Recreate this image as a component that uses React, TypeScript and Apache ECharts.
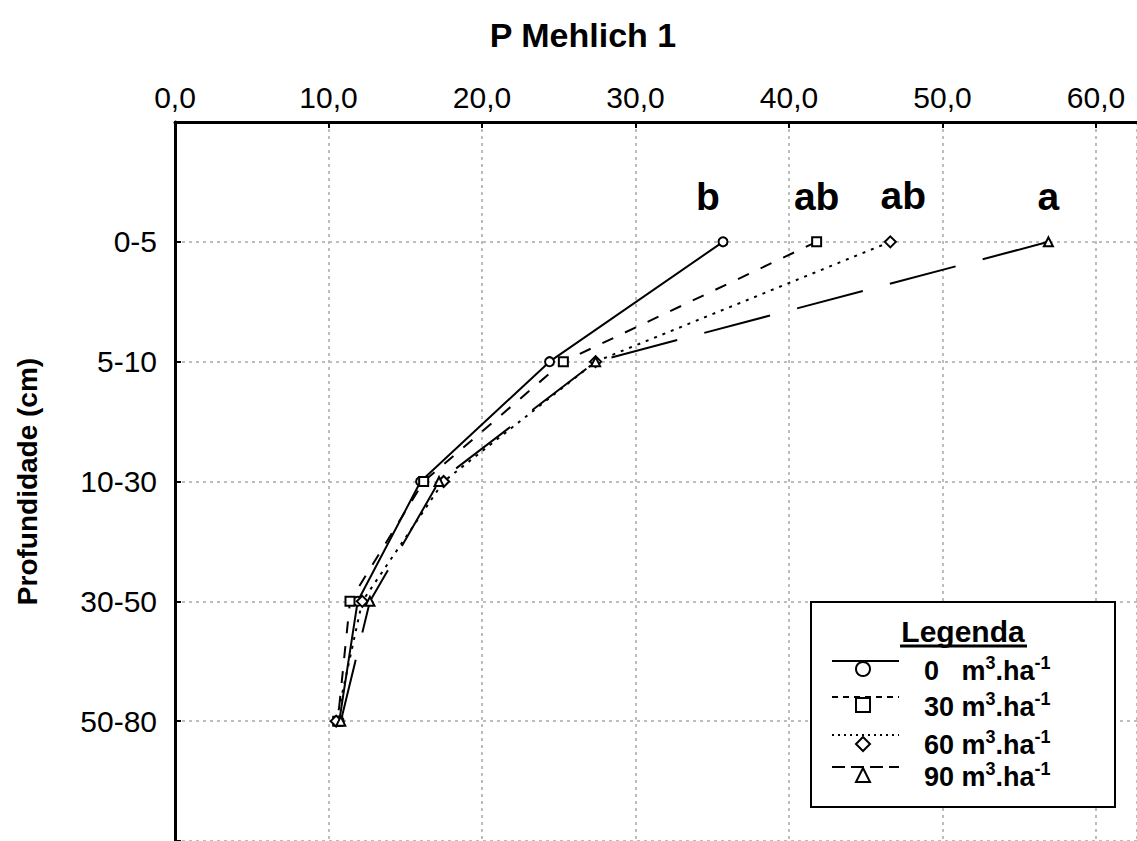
import React, { useEffect, useRef } from "react";
import * as echarts from "echarts";

// ---- data ----
const depthLabels = ["0-5", "5-10", "10-30", "30-50", "50-80"];
const dose0 = [35.7, 24.4, 16.0, 11.9, 10.7];
const dose30 = [41.8, 25.3, 16.2, 11.4, 10.6];
const dose60 = [46.6, 27.4, 17.5, 12.2, 10.5];
const dose90 = [56.9, 27.4, 17.2, 12.7, 10.8];
const letters = ["b", "ab", "ab", "a"];
const doseNames = ["0   ", "30 ", "60 ", "90 "];
const xTitle = "P Mehlich 1";
const yTitle = "Profundidade (cm)";
const legendTitle = "Legenda";

const FONT = '"Liberation Sans", Arial, Helvetica, sans-serif';

const seriesDefs = [
  { values: dose0, symbol: "circle", dash: "solid" as any, letterOffset: [-15, 0] },
  { values: dose30, symbol: "rect", dash: [12, 13], letterOffset: [0, 0] },
  { values: dose60, symbol: "diamond", dash: [3, 6], letterOffset: [13, 0] },
  { values: dose90, symbol: "triangle", dash: [68, 28], letterOffset: [0, 0] },
];
const legendDash: any[] = ["solid", [6, 5], [2, 4], [13, 6]];

export default function App() {
  const ref = useRef<HTMLDivElement>(null);
  useEffect(() => {
    document.body.style.margin = "0";
    const chart = echarts.init(ref.current!, null, { renderer: "svg" });

    const series = seriesDefs.map((d, si) => ({
      type: "line",
      name: doseNames[si],
      data: d.values.map((v, i) =>
        i === 0
          ? {
              value: [v, i],
              label: {
                show: true,
                formatter: letters[si],
                position: "top",
                distance: 20,
                offset: d.letterOffset,
                fontFamily: FONT,
                fontWeight: "bold",
                fontSize: 39,
                color: "#000",
              },
            }
          : { value: [v, i] }
      ),
      symbol: d.symbol,
      symbolSize: d.symbol === "diamond" ? 11 : 9,
      showSymbol: true,
      color: "#000",
      lineStyle: { color: "#000", width: 2, type: d.dash },
      itemStyle: { color: "#fff", borderColor: "#000", borderWidth: 2 },
      z: 3 + si,
    }));

    // legend graphic
    const lx = 811, ly = 602, lw = 304, lh = 205;
    const rowY = [661, 697, 735, 767];
    const legendEls: any[] = [
      { type: "rect", shape: { x: lx, y: ly, width: lw, height: lh }, style: { fill: "#fff", stroke: "#000", lineWidth: 2 }, z: 100 },
      { type: "text", x: 963, y: 616, style: { text: legendTitle, font: `bold 30px ${FONT}`, fill: "#000", textAlign: "center", textVerticalAlign: "top" }, z: 101 },
      { type: "line", shape: { x1: 900, y1: 646, x2: 1027, y2: 646 }, style: { stroke: "#000", lineWidth: 3 }, z: 101 },
    ];
    seriesDefs.forEach((d, i) => {
      const y = rowY[i];
      legendEls.push({ type: "line", shape: { x1: 832, y1: y, x2: 899, y2: y }, style: { stroke: "#000", lineWidth: 2, lineDash: legendDash[i] === "solid" ? null : legendDash[i] }, z: 101 });
      const cx = 863, cy = y + 8;
      const st = { fill: "#fff", stroke: "#000", lineWidth: 2 };
      if (d.symbol === "circle") legendEls.push({ type: "circle", shape: { cx, cy, r: 7 }, style: st, z: 102 });
      else if (d.symbol === "rect") legendEls.push({ type: "rect", shape: { x: cx - 7, y: cy - 7, width: 14, height: 14 }, style: st, z: 102 });
      else if (d.symbol === "diamond") legendEls.push({ type: "polygon", shape: { points: [[cx, cy - 6], [cx + 7, cy + 1], [cx, cy + 8], [cx - 7, cy + 1]] }, style: st, z: 102 });
      else legendEls.push({ type: "polygon", shape: { points: [[cx, cy - 7], [cx + 7, cy + 7], [cx - 7, cy + 7]] }, style: st, z: 102 });
      legendEls.push({
        type: "text",
        x: 924,
        y: y + 8,
        style: {
          text: `{n|${doseNames[i]}m}{s|3}{n|.ha}{s|-1}`,
          rich: {
            n: { font: `bold 27px ${FONT}`, fill: "#000", verticalAlign: "bottom", lineHeight: 30 },
            s: { font: `bold 18px ${FONT}`, fill: "#000", verticalAlign: "top", lineHeight: 30 },
          },
          textVerticalAlign: "middle",
        },
        z: 102,
      });
    });

    chart.setOption({
      animation: false,
      backgroundColor: "#fff",
      grid: { left: 175, top: 122, width: 962, height: 724 },
      xAxis: {
        type: "value",
        position: "top",
        min: 0,
        max: 62.67,
        interval: 10,
        axisLine: { show: true, onZero: false, lineStyle: { color: "#000", width: 3 } },
        axisTick: { show: true, inside: true, length: 6, lineStyle: { color: "#000", width: 2 } },
        axisLabel: {
          showMaxLabel: false,
          margin: 10,
          fontFamily: FONT,
          fontSize: 30,
          color: "#000",
          formatter: (v: number) => v.toFixed(1).replace(".", ","),
        },
        splitLine: { show: true, lineStyle: { color: "#bdbdbd", width: 2, type: [3, 4] } },
      },
      yAxis: {
        type: "value",
        inverse: true,
        min: -1,
        max: 5,
        interval: 1,
        name: yTitle,
        nameLocation: "middle",
        nameRotate: 90,
        nameGap: 134,
        nameTextStyle: { fontFamily: FONT, fontWeight: "bold", fontSize: 28, color: "#000" },
        axisLine: { show: true, onZero: false, lineStyle: { color: "#000", width: 3 } },
        axisTick: { show: true, inside: true, length: 6, lineStyle: { color: "#000", width: 2 } },
        axisLabel: {
          margin: 18,
          fontFamily: FONT,
          fontSize: 30,
          color: "#000",
          formatter: (v: number) => depthLabels[v] ?? "",
        },
        splitLine: { show: true, lineStyle: { color: "#bdbdbd", width: 2, type: [3, 4] } },
      },
      graphic: [
        { type: "text", x: 583, y: 18, style: { text: xTitle, font: `bold 34px ${FONT}`, fill: "#000", textAlign: "center", textVerticalAlign: "top" } },
        ...legendEls,
      ],
      series,
    });
    return () => chart.dispose();
  }, []);
  return <div ref={ref} style={{ width: 1137, height: 841 }} />;
}
